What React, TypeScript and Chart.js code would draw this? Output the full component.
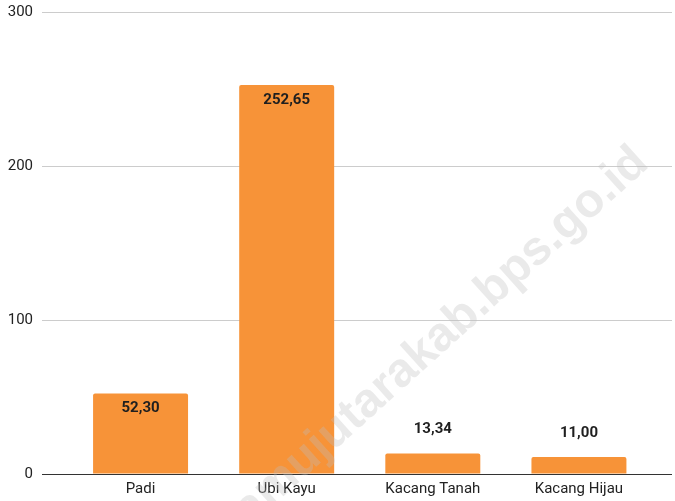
import React, { useEffect, useRef } from "react";
import { Chart, registerables } from "chart.js";

Chart.register(...registerables);

const categories: string[] = ["Padi", "Ubi Kayu", "Kacang Tanah", "Kacang Hijau"];
const values: number[] = [52.3, 252.65, 13.34, 11.0];
const yTicks: number[] = [0, 100, 200, 300];
const watermarkText = "mamujutarakab.bps.go.id";

const BAR_COLOR = "#f79338";

const dataLabelPlugin = {
  id: "dataLabels",
  afterDatasetsDraw(chart: any) {
    const ctx = chart.ctx;
    const meta = chart.getDatasetMeta(0);
    ctx.save();
    ctx.font = "bold 15px Roboto";
    ctx.fillStyle = "#1f1f1f";
    ctx.textAlign = "center";
    ctx.textBaseline = "middle";
    meta.data.forEach((bar: any, i: number) => {
      const v = values[i];
      const label = v.toFixed(2).replace(".", ",");
      const h = bar.base - bar.y;
      const y = h > 30 ? bar.y + 15 : bar.y - 24;
      ctx.fillText(label, bar.x, y);
    });
    ctx.restore();
  },
};

const watermarkPlugin = {
  id: "watermark",
  afterDraw(chart: any) {
    const ctx = chart.ctx;
    ctx.save();
    ctx.font = "bold 48px 'Liberation Sans'";
    ctx.fillStyle = "rgba(190,190,190,0.32)";
    ctx.textBaseline = "alphabetic";
    ctx.textAlign = "left";
    const prefix = "mamujutarakab.bps.go";
    const offset = ctx.measureText(prefix).width + ctx.measureText(".").width / 2;
    const ang = (-42 * Math.PI) / 180;
    ctx.translate(611.7 + 2, 196.7 + 2.2);
    ctx.rotate(ang);
    ctx.fillText(watermarkText, -offset, 0);
    ctx.restore();
  },
};

export default function App() {
  const ref = useRef<HTMLCanvasElement | null>(null);
  useEffect(() => {
    document.body.style.margin = "0";
    if (!ref.current) return;
    const gridColor = (c: any) => (c.tick && c.tick.value === 0 ? "#333333" : "#cccccc");
    const chart = new Chart(ref.current, {
      type: "bar",
      data: {
        labels: categories,
        datasets: [
          {
            data: values,
            backgroundColor: BAR_COLOR,
            borderRadius: 2,
            borderSkipped: "bottom",
            categoryPercentage: 1,
            barPercentage: 0.65,
          },
        ],
      },
      options: {
        animation: false,
        responsive: false,
        devicePixelRatio: 1,
        layout: { padding: { top: 12, left: 0, right: 0, bottom: 0 } },
        plugins: {
          legend: { display: false },
          tooltip: { enabled: false },
        },
        scales: {
          x: {
            grid: { display: false, drawTicks: false },
            border: { display: false },
            ticks: {
              color: "#222222",
              font: { family: "Roboto", size: 15 },
              padding: 6,
              maxRotation: 0,
            },
            afterFit: (s: any) => {
              s.height = 27;
              s.paddingLeft = 0;
              s.paddingRight = 0;
            },
          },
          y: {
            min: 0,
            max: 300,
            afterBuildTicks: (s: any) => {
              s.ticks = yTicks.map((v) => ({ value: v }));
            },
            grid: {
              color: gridColor,
              tickColor: gridColor,
              lineWidth: 1,
              drawTicks: true,
              tickLength: 25.5,
            },
            border: { display: false },
            ticks: {
              color: "#222222",
              font: { family: "Roboto", size: 15 },
              padding: 9,
            },
            afterFit: (s: any) => {
              s.width = 67.5;
              s.paddingTop = 0;
              s.paddingBottom = 0;
            },
          },
          y2: {
            position: "right",
            min: 0,
            max: 300,
            afterBuildTicks: (s: any) => {
              s.ticks = yTicks.map((v) => ({ value: v }));
            },
            grid: {
              color: gridColor,
              tickColor: gridColor,
              drawOnChartArea: false,
              drawTicks: true,
              tickLength: 20,
            },
            border: { display: false },
            ticks: { display: false },
            afterFit: (s: any) => {
              s.width = 23;
              s.paddingTop = 0;
              s.paddingBottom = 0;
            },
          },
        },
      },
      plugins: [dataLabelPlugin, watermarkPlugin],
    } as any);
    return () => chart.destroy();
  }, []);
  return <canvas ref={ref} width={675} height={501} style={{ display: "block" }} />;
}
